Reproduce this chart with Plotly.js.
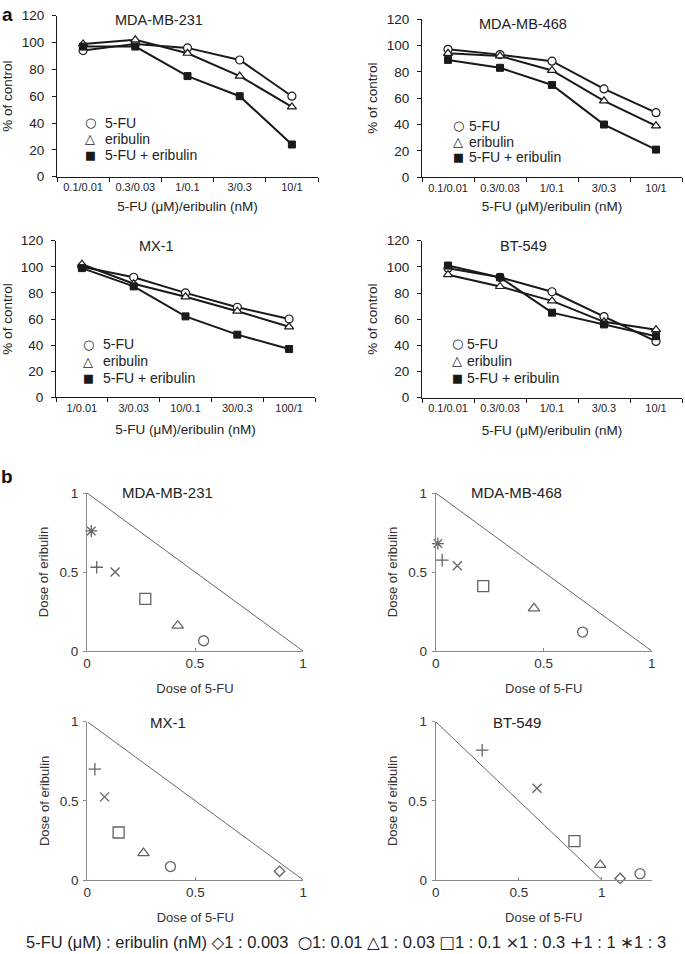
<!DOCTYPE html>
<html>
<head>
<meta charset="utf-8">
<script src="https://cdn.plot.ly/plotly-3.0.1.min.js"></script>
<style>
  html, body { margin: 0; padding: 0; background: #fff; }
  #chart { width: 685px; height: 954px; }
</style>
</head>
<body>
<div id="chart"></div>
<script>
// ---- panel a: viability, % of control ----
var dosesA = ['0.1/0.01', '0.3/0.03', '1/0.1', '3/0.3', '10/1'];
var dosesMX1 = ['1/0.01', '3/0.03', '10/0.1', '30/0.3', '100/1'];
var seriesNames = ['5-FU', 'eribulin', '5-FU + eribulin'];

var fu231 = [94, 99, 96, 87, 60];
var eri231 = [99, 102, 92, 75, 52];
var combo231 = [97, 97, 75, 60, 24];

var fu468 = [97, 93, 88, 67, 49];
var eri468 = [94, 92, 81, 58, 39];
var combo468 = [89, 83, 70, 40, 21];

var fuMX1 = [100, 92, 80, 69, 60];
var eriMX1 = [102, 87, 77, 66, 54];
var comboMX1 = [99, 85, 62, 48, 37];

var fu549 = [99, 92, 81, 62, 43];
var eri549 = [94, 85, 74, 58, 52];
var combo549 = [101, 92, 65, 56, 47];

// ---- panel b: isobolograms (normalised doses), one entry per ratio ----
var ratios = ['1 : 0.003', '1 : 0.01', '1 : 0.03', '1 : 0.1', '1 : 0.3', '1 : 1', '1 : 3'];

var fuDose231 = [null, 0.54, 0.42, 0.27, 0.13, 0.045, 0.02];
var eriDose231 = [null, 0.065, 0.16, 0.33, 0.50, 0.53, 0.76];

var fuDose468 = [null, 0.68, 0.455, 0.22, 0.10, 0.03, 0.01];
var eriDose468 = [null, 0.12, 0.27, 0.41, 0.54, 0.575, 0.68];

var fuDoseMX1 = [0.89, 0.385, 0.26, 0.145, 0.08, 0.035, null];
var eriDoseMX1 = [0.055, 0.085, 0.17, 0.30, 0.525, 0.70, null];

var fuDose549 = [1.11, 1.23, 0.99, 0.835, 0.61, 0.28, null];
var eriDose549 = [0.01, 0.04, 0.095, 0.245, 0.58, 0.82, null];

// line of additivity
var addX = [0, 1];
var addY = [1, 0];

var W = 685, H = 954;
function px(x) { return x / W; }
function py(y) { return 1 - y / H; }

var FONT = 'Liberation Sans, Arial, Helvetica, sans-serif';
var SYMFONT = 'DejaVu Sans, sans-serif';
var INK = '#1a1a1a';
var GREY = '#8a8a8a';

var symbolsB = ['diamond-open', 'circle-open', 'triangle-up-open', 'square-open', 'x-thin-open', 'cross-thin-open', 'asterisk-open'];
var sizesB = [8, 10, 10, 11, 9, 9, 10];
var glyphsB = ['◇', '○', '△', '□', '×', '+', '∗'];

var traces = [];

function growthPanel(n, cats, fu, eri, combo) {
  var xa = 'x' + (n === 1 ? '' : n), ya = 'y' + (n === 1 ? '' : n);
  [fu, eri, combo].forEach(function (s) {
    traces.push({ x: cats, y: s, xaxis: xa, yaxis: ya, mode: 'lines', showlegend: false,
      line: { color: INK, width: 2 }, hoverinfo: 'skip' });
  });
  traces.push({ x: cats, y: fu, xaxis: xa, yaxis: ya, mode: 'markers', name: seriesNames[0], showlegend: false,
    marker: { symbol: 'circle', size: 8, color: '#fff', line: { color: INK, width: 1.2 } }, cliponaxis: false });
  traces.push({ x: cats, y: eri, xaxis: xa, yaxis: ya, mode: 'markers', name: seriesNames[1], showlegend: false,
    marker: { symbol: 'triangle-up', size: 8, color: '#fff', line: { color: INK, width: 1.2 } }, cliponaxis: false });
  traces.push({ x: cats, y: combo, xaxis: xa, yaxis: ya, mode: 'markers', name: seriesNames[2], showlegend: false,
    marker: { symbol: 'square', size: 7, color: INK, line: { color: INK, width: 1 } }, cliponaxis: false });
}

function isoPanel(n, fuD, eriD) {
  var xa = 'x' + n, ya = 'y' + n;
  traces.push({ x: addX, y: addY, xaxis: xa, yaxis: ya, mode: 'lines', showlegend: false,
    line: { color: '#666', width: 1 }, hoverinfo: 'skip' });
  traces.push({ x: fuD, y: eriD, text: ratios, xaxis: xa, yaxis: ya, mode: 'markers', showlegend: false,
    marker: { symbol: symbolsB, size: sizesB, color: '#222', line: { color: '#222', width: 1.3 } },
    cliponaxis: false });
}

growthPanel(1, dosesA, fu231, eri231, combo231);
growthPanel(2, dosesA, fu468, eri468, combo468);
growthPanel(3, dosesMX1, fuMX1, eriMX1, comboMX1);
growthPanel(4, dosesA, fu549, eri549, combo549);
isoPanel(5, fuDose231, eriDose231);
isoPanel(6, fuDose468, eriDose468);
isoPanel(7, fuDoseMX1, eriDoseMX1);
isoPanel(8, fuDose549, eriDose549);

function catX(x0, x1, anchor, standoff) {
  return {
    domain: [px(x0), px(x1)], anchor: anchor, type: 'category', range: [-0.5, 4.5],
    showline: true, linecolor: INK, linewidth: 1, showgrid: false, zeroline: false,
    ticks: 'outside', tickson: 'boundaries', ticklen: 4, tickcolor: INK, tickangle: 0,
    tickfont: { size: 11, color: '#222' },
    title: { text: '5-FU (μM)/eribulin (nM)', font: { size: 13.5, color: '#222' }, standoff: standoff }
  };
}
function pctY(y0, y1, anchor) {
  return {
    domain: [py(y1), py(y0)], anchor: anchor, range: [0, 120], dtick: 20,
    showline: true, linecolor: INK, linewidth: 1, showgrid: false, zeroline: false,
    ticks: 'outside', ticklen: 4, tickcolor: INK, ticklabelstandoff: 5,
    tickfont: { size: 13.5, color: '#222' },
    title: { text: '% of control', font: { size: 13.5, color: '#222' }, standoff: 6 }
  };
}
function doseX(x0, x1, anchor, maxX) {
  return {
    domain: [px(x0), px(x1)], anchor: anchor, range: [0, maxX], tickvals: [0, 0.5, 1],
    showline: true, linecolor: GREY, linewidth: 1, showgrid: false, zeroline: false,
    ticks: 'inside', ticklen: 3, tickcolor: GREY,
    tickfont: { size: 13.5, color: '#333' },
    title: { text: 'Dose of 5-FU', font: { size: 13, color: '#333' }, standoff: 13 }
  };
}
function doseY(y0, y1, anchor) {
  return {
    domain: [py(y1), py(y0)], anchor: anchor, range: [0, 1], tickvals: [0, 0.5, 1],
    showline: true, linecolor: GREY, linewidth: 1, showgrid: false, zeroline: false,
    ticks: 'outside', ticklen: 3, tickcolor: GREY, ticklabelstandoff: 2,
    tickfont: { size: 13.5, color: '#333' },
    title: { text: 'Dose of eribulin', font: { size: 13, color: '#333' }, standoff: 7 }
  };
}

function label(text, x, y, size, extra) {
  var a = { text: text, x: px(x), y: py(y), xref: 'paper', yref: 'paper', showarrow: false,
    xanchor: 'center', yanchor: 'middle', font: { family: FONT, size: size, color: '#222' } };
  for (var k in extra) a[k] = extra[k];
  return a;
}

// bottom key: ratio list with the panel-b glyphs
var sym = function (g) { return '<span style="font-family:DejaVu Sans;color:#222">' + g + '</span>'; };
var ratioKey = '5-FU (μM) : eribulin (nM) ' + sym(glyphsB[0]) + '1 : 0.003  ' + sym(glyphsB[1]) + '1: 0.01 ' +
  sym(glyphsB[2]) + '1 : 0.03 ' + sym(glyphsB[3]) + '1 : 0.1 ' + sym(glyphsB[4]) + '1 : 0.3 ' +
  sym(glyphsB[5]) + '1 : 1 ' + sym(glyphsB[6]) + '1 : 3';

var annotations = [
  label('a', 8, 14, 19, { font: { family: FONT, size: 19, color: '#111', weight: 'bold' } }),
  label('b', 7, 476, 19, { font: { family: FONT, size: 19, color: '#111', weight: 'bold' } }),
  label('MDA-MB-231', 159, 20, 14.5),
  label('MDA-MB-468', 523, 24, 14.5),
  label('MX-1', 156, 246, 14.5),
  label('BT-549', 523, 246, 14.5),
  label('MDA-MB-231', 167, 493, 15),
  label('MDA-MB-468', 516, 493, 15),
  label('MX-1', 168, 722, 15),
  label('BT-549', 517, 722, 15),
  label(ratioKey, 346, 942, 16.5, { borderpad: 0 })
];

// in-plot keys for panel a: symbol column x, text x, row centres
var keyGlyphs = ['○', '△', '■'];
var keys = [
  { sx: 90, tx: 103, rows: [122.7, 139, 155.3] },
  { sx: 458, tx: 467, rows: [126, 141.7, 156.7] },
  { sx: 88, tx: 101, rows: [344, 361, 377.7] },
  { sx: 457, tx: 465, rows: [343.7, 360.7, 377.7] }
];
keys.forEach(function (k) {
  for (var i = 0; i < 3; i++) {
    annotations.push(label(keyGlyphs[i], k.sx, k.rows[i], 12,
      { font: { family: SYMFONT, size: i === 2 ? 11.5 : 13, color: INK } }));
    annotations.push(label(seriesNames[i], k.tx, k.rows[i], 14, { xanchor: 'left' }));
  }
});

var layout = {
  width: W, height: H,
  margin: { l: 0, r: 0, t: 0, b: 0 },
  paper_bgcolor: '#fff', plot_bgcolor: 'rgba(0,0,0,0)',
  font: { family: FONT, color: '#222' },
  showlegend: false,
  xaxis: catX(57, 318, 'y', 9), yaxis: pctY(15.7, 176.7, 'x'),
  xaxis2: catX(422, 682, 'y2', 9), yaxis2: pctY(19, 177.3, 'x2'),
  xaxis3: catX(56, 315, 'y3', 12), yaxis3: pctY(240.7, 397.3, 'x3'),
  xaxis4: catX(422, 682, 'y4', 12), yaxis4: pctY(240.7, 397.7, 'x4'),
  xaxis5: doseX(87, 303, 'y5', 1), yaxis5: doseY(493, 651, 'x5'),
  xaxis6: doseX(435.7, 651.7, 'y6', 1), yaxis6: doseY(493, 651, 'x6'),
  xaxis7: doseX(87.3, 303.3, 'y7', 1), yaxis7: doseY(721.7, 880, 'x7'),
  xaxis8: doseX(435.7, 651.7, 'y8', 1.3), yaxis8: doseY(721.7, 880, 'x8'),
  annotations: annotations
};

Plotly.newPlot('chart', traces, layout, { staticPlot: true });
</script>
</body>
</html>
